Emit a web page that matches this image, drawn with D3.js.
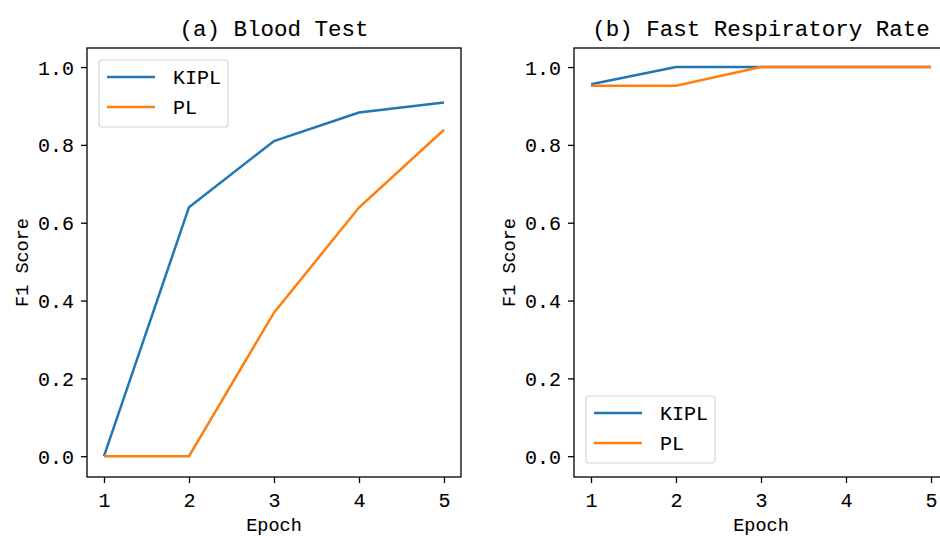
<!DOCTYPE html>
<html>
<head>
<meta charset="utf-8">
<script src="https://cdn.jsdelivr.net/npm/d3@7"></script>
<style>
  body { margin: 0; background: #fff; }
  svg { display: block; }
  text { font-family: "Liberation Mono", "DejaVu Sans Mono", monospace; fill: #000; stroke: #000; stroke-width: 0.1px; }
  .domain { display: none; }
</style>
</head>
<body>
<div id="chart"></div>
<script>
var epochs = [1, 2, 3, 4, 5];
var series = ["KIPL", "PL"];
var colors = ["#1f77b4", "#ff7f0e"];
var yTicks = [0.0, 0.2, 0.4, 0.6, 0.8, 1.0];

var bloodKIPL = [0.0, 0.64, 0.81, 0.883, 0.909];
var bloodPL = [0.0, 0.0, 0.369, 0.639, 0.839];
var fastKIPL = [0.956, 1.0, 1.0, 1.0, 1.0];
var fastPL = [0.952, 0.952, 1.0, 1.0, 1.0];

var panels = [
  { title: "(a) Blood Test", left: 87, values: [bloodKIPL, bloodPL], legendY: 60 },
  { title: "(b) Fast Respiratory Rate", left: 574, values: [fastKIPL, fastPL], legendY: 396 }
];

var width = 940, height = 536,
    plotTop = 48, plotBottom = 477, plotW = 374;

var svg = d3.select("#chart").append("svg")
    .attr("width", width)
    .attr("height", height);

panels.forEach(function(p) {
  var x = d3.scaleLinear().domain([0.8, 5.2]).range([p.left, p.left + plotW]);
  var y = d3.scaleLinear().domain([-0.0535, 1.049]).range([plotBottom, plotTop]);

  var g = svg.append("g");

  // axes
  g.append("g")
      .attr("transform", "translate(0," + plotBottom + ")")
      .call(d3.axisBottom(x).tickValues(epochs).tickFormat(d3.format("d")).tickSize(6).tickPadding(5))
      .call(function(a) {
        a.selectAll("line").attr("stroke", "#000").attr("stroke-width", 1.3);
        a.selectAll("text").style("font-size", "20px").attr("dy", "0.95em");
      });

  g.append("g")
      .attr("transform", "translate(" + p.left + ",0)")
      .call(d3.axisLeft(y).tickValues(yTicks).tickFormat(d3.format(".1f")).tickSize(6).tickPadding(7))
      .call(function(a) {
        a.selectAll("line").attr("stroke", "#000").attr("stroke-width", 1.3);
        a.selectAll("text").style("font-size", "20px").attr("dy", "0.35em");
      });

  // lines
  var line = d3.line()
      .x(function(d, i) { return x(epochs[i]); })
      .y(function(d) { return y(d); });

  p.values.forEach(function(vals, i) {
    g.append("path")
        .datum(vals)
        .attr("d", line)
        .attr("fill", "none")
        .attr("stroke", colors[i])
        .attr("stroke-width", 2.5);
  });

  // frame
  g.append("rect")
      .attr("x", p.left).attr("y", plotTop)
      .attr("width", plotW).attr("height", plotBottom - plotTop)
      .attr("fill", "none").attr("stroke", "#000").attr("stroke-width", 1.3);

  // title + labels
  g.append("text").text(p.title)
      .attr("x", p.left + plotW / 2).attr("y", 36)
      .attr("text-anchor", "middle")
      .style("font-size", "22.5px");

  g.append("text").text("Epoch")
      .attr("x", p.left + plotW / 2).attr("y", 531)
      .attr("text-anchor", "middle")
      .style("font-size", "18.5px");

  g.append("text").text("F1 Score")
      .attr("transform", "translate(" + (p.left - 59) + "," + ((plotTop + plotBottom) / 2) + ") rotate(-90)")
      .attr("text-anchor", "middle")
      .style("font-size", "18.5px");

  // legend
  var lx = p.left + 12, ly = p.legendY;
  var legend = g.append("g");
  legend.append("rect")
      .attr("x", lx).attr("y", ly)
      .attr("width", 129).attr("height", 67)
      .attr("rx", 3)
      .attr("fill", "#fff").attr("fill-opacity", 0.8)
      .attr("stroke", "#d6d6d6").attr("stroke-width", 1.2);

  series.forEach(function(s, i) {
    var yy = ly + 17 + i * 30;
    legend.append("line")
        .attr("x1", lx + 8).attr("x2", lx + 56)
        .attr("y1", yy).attr("y2", yy)
        .attr("stroke", colors[i]).attr("stroke-width", 2.5);
    legend.append("text").text(s)
        .attr("x", lx + 74).attr("y", yy)
        .attr("dy", "0.35em")
        .style("font-size", "20px");
  });
});
</script>
</body>
</html>
